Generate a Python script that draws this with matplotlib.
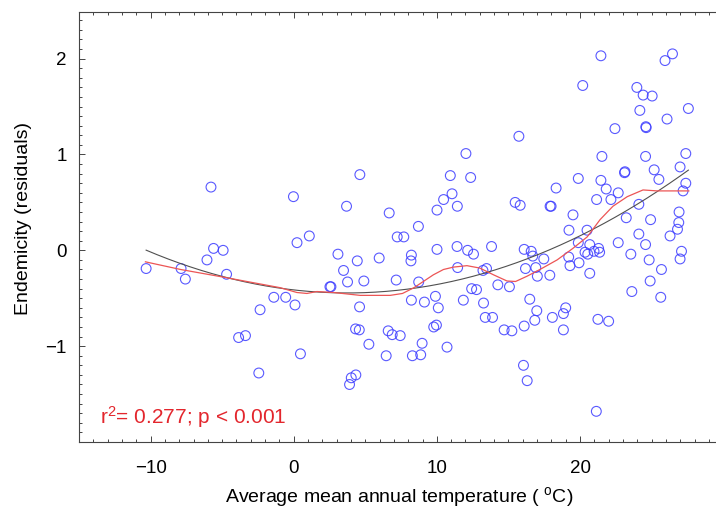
import numpy as np
import matplotlib
matplotlib.use('Agg')
import matplotlib.pyplot as plt
from matplotlib.ticker import MultipleLocator

plt.rcParams['font.family'] = ['Liberation Sans', 'DejaVu Sans']
plt.rcParams['mathtext.fontset'] = 'custom'
plt.rcParams['mathtext.rm'] = 'Liberation Sans'
plt.rcParams['mathtext.it'] = 'Liberation Sans:italic'

# average mean annual temperature (deg C) and endemicity residuals
temp = [
    -10.31, -7.87, -7.57, -6.06, -5.78, -5.60, -4.93, -4.69, -3.85, -3.37,
    -2.44, -2.35, -1.39, -0.56, -0.02, 0.09, 0.23, 0.47, 1.09, 2.53,
    2.60, 3.09, 3.48, 3.69, 3.76, 3.90, 4.02, 4.32, 4.34, 4.44,
    4.58, 4.60, 4.62, 4.90, 5.25, 5.97, 6.46, 6.60, 6.67, 6.88,
    7.16, 7.23, 7.44, 7.69, 8.19, 8.22, 8.22, 8.29, 8.71, 8.73,
    8.87, 8.97, 9.13, 9.78, 9.90, 9.97, 10.01, 10.01, 10.10, 10.47,
    10.71, 10.94, 11.06, 11.41, 11.43, 11.45, 11.85, 12.03, 12.15, 12.36,
    12.43, 12.56, 12.77, 13.22, 13.26, 13.38, 13.47, 13.82, 13.89, 14.26,
    14.70, 15.07, 15.24, 15.47, 15.73, 15.82, 16.05, 16.10, 16.10, 16.19,
    16.31, 16.49, 16.59, 16.70, 16.84, 16.91, 16.98, 17.02, 17.47, 17.89,
    17.91, 17.98, 18.07, 18.33, 18.84, 18.84, 19.00, 19.21, 19.23, 19.30,
    19.51, 19.88, 19.88, 19.93, 20.19, 20.35, 20.49, 20.54, 20.68, 20.68,
    20.98, 21.14, 21.16, 21.25, 21.30, 21.37, 21.46, 21.46, 21.53, 21.83,
    22.00, 22.16, 22.44, 22.67, 22.67, 23.11, 23.14, 23.23, 23.55, 23.62,
    23.97, 24.11, 24.11, 24.18, 24.41, 24.58, 24.58, 24.60, 24.62, 24.83,
    24.90, 24.93, 25.04, 25.18, 25.51, 25.64, 25.69, 25.94, 26.08, 26.29,
    26.46, 26.81, 26.90, 26.92, 26.99, 26.99, 27.09, 27.20, 27.39, 27.39,
    27.57,
]
resid = [
    -0.19, -0.19, -0.30, -0.10, 0.66, 0.02, 0.00, -0.25, -0.91, -0.89,
    -1.28, -0.62, -0.49, -0.49, 0.56, -0.57, 0.08, -1.08, 0.15, -0.38,
    -0.38, -0.04, -0.21, 0.46, -0.33, -1.40, -1.33, -0.82, -1.30, -0.11,
    -0.83, -0.59, 0.79, -0.32, -0.98, -0.08, -1.10, -0.84, 0.39, -0.88,
    -0.31, 0.14, -0.89, 0.14, -0.11, -0.05, -0.52, -1.10, 0.25, -0.33,
    -1.09, -0.97, -0.54, -0.80, -0.48, -0.78, 0.01, 0.42, -0.60, 0.53,
    -1.01, 0.78, 0.59, 0.04, 0.46, -0.18, -0.52, 1.01, 0.00, 0.76,
    -0.40, -0.04, -0.41, -0.21, -0.55, -0.70, -0.19, 0.04, -0.70, -0.36,
    -0.83, -0.38, -0.84, 0.50, 1.19, 0.47, -1.20, -0.79, 0.01, -0.19,
    -1.36, -0.51, -0.01, -0.06, -0.73, -0.18, -0.63, -0.27, -0.09, -0.26,
    0.46, 0.46, -0.70, 0.65, -0.66, -0.83, -0.60, -0.07, 0.21, -0.16,
    0.37, 0.08, 0.75, -0.13, 1.72, -0.02, 0.21, -0.04, 0.06, -0.24,
    -0.01, -1.68, 0.53, -0.72, 0.02, -0.02, 2.03, 0.73, 0.98, 0.64,
    -0.74, 0.53, 1.27, 0.08, 0.60, 0.81, 0.82, 0.34, -0.04, -0.43,
    1.70, 0.17, 0.48, 1.46, 1.62, 0.06, 0.98, 1.29, 1.28, -0.10,
    -0.32, 0.32, 1.61, 0.84, 0.74, -0.49, -0.20, 1.98, 1.37, 0.15,
    2.05, 0.22, 0.29, 0.40, -0.09, 0.87, -0.01, 0.62, 1.01, 0.70,
    1.48,
]

# loess smoother (red line)
loess_x = [-10.36, -7.9, -4.9, -0.94, 0.22, 0.92, 1.62, 2.78, 4.64, 6.74,
           7.6, 8.4, 9.76, 10.46, 11.16, 12.1, 13.0, 13.95, 14.9, 15.5,
           16.3, 17.2, 18.4, 19.5, 20.5, 21.4, 22.3, 23.3, 24.4, 25.4, 27.6]
loess_y = [-0.12, -0.20, -0.28, -0.39, -0.44, -0.45, -0.43, -0.44, -0.47, -0.47,
           -0.45, -0.39, -0.255, -0.20, -0.175, -0.16, -0.185, -0.255, -0.32, -0.325,
           -0.27, -0.20, -0.10, 0.02, 0.14, 0.32, 0.46, 0.56, 0.63, 0.62, 0.62]

x = np.array(temp)
y = np.array(resid)

# quadratic fit (black line)
coef = np.polyfit(x, y, 2)
xs = np.linspace(x.min(), x.max(), 200)
ys = np.polyval(coef, xs)

fig = plt.figure(figsize=(7.16, 5.09), dpi=100)
ax = fig.add_axes([79 / 716, 67 / 509, 1 - 79 / 716, 430.3 / 509])

ax.scatter(x, y, s=50, facecolors='none', edgecolors='#3c3cff', linewidths=0.8, alpha=0.85, zorder=3)
ax.plot(xs, ys, color='#505050', lw=0.8, zorder=4)
ax.plot(loess_x, loess_y, color='#ec5555', lw=0.9, zorder=5)

ax.text(-13.5, -1.81, r'r$^2$= 0.277; p < 0.001', color='#e3262d', fontsize=15, va='baseline', ha='left')

ax.set_xlim(-15, 29.5)
ax.set_ylim(-2.0, 2.49)
ax.set_xticks([-10, 0, 10, 20])
ax.set_yticks([-1, 0, 1, 2])
ax.xaxis.set_minor_locator(MultipleLocator(1))
ax.yaxis.set_minor_locator(MultipleLocator(0.1))
ax.tick_params(which='both', direction='in', top=True, right=False, color='#444444', width=0.7)
ax.tick_params(which='major', length=4, labelsize=13.5)
ax.tick_params(which='minor', length=2)
ax.tick_params(axis='x', pad=13)
ax.tick_params(axis='y', pad=9)
ax.spines['right'].set_visible(False)
for s in ['left', 'bottom', 'top']:
    ax.spines[s].set_linewidth(0.8)
    ax.spines[s].set_color('#444444')

ax.set_xlabel('Average mean annual temperature ( $^{\\mathrm{o}}$C)', fontsize=14)
ax.set_ylabel('Endemicity (residuals)', fontsize=14)
ax.xaxis.set_label_coords(0.503, -0.10)
ax.yaxis.set_label_coords(-0.073, 0.52)

fig.savefig('out.png', dpi=100)
